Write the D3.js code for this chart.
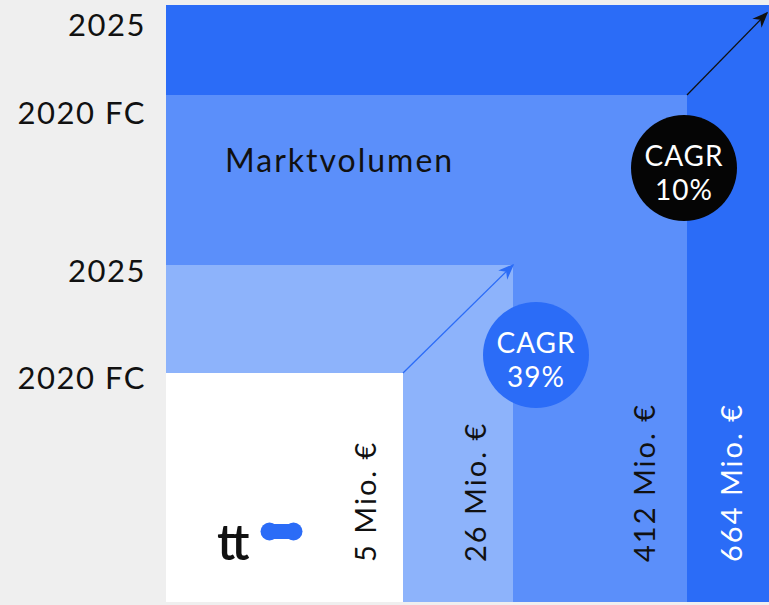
<!DOCTYPE html>
<meta charset="utf-8">
<head>
<script src="https://d3js.org/d3.v7.min.js"></script>
<style>
body { margin: 0; background: #efefef; }
svg { display: block; font-family: Lato, "Open Sans", sans-serif; }
</style>
</head>
<body>
<svg id="chart"></svg>
<script>
// market volumes, innermost to outermost square
var volumes = [5, 26, 412, 664];
var volumeLabels = ["5 Mio. €", "26 Mio. €", "412 Mio. €", "664 Mio. €"];
var yearLabels = ["2020 FC", "2025", "2020 FC", "2025"];
var cagrLabels = ["39%", "10%"];
var title = "Marktvolumen";

var width = 769, height = 605;
var left = 166, bottom = 602;

var fills = ["#ffffff", "#8db3fb", "#5b8ffa", "#2b6cf7"];
var textFill = ["#111", "#111", "#111", "#fff"];

// squares are not drawn to area, the source just stacks them
var x = d3.scaleLinear().domain([0].concat(volumes)).range([left, 403, 513, 687, 769]);
var y = d3.scaleLinear().domain([0].concat(volumes)).range([bottom, 373, 265, 95, 5]);

var svg = d3.select("#chart").attr("width", width).attr("height", height);

var defs = svg.append("defs");
[["arrBlue", "#2b6cf7"], ["arrBlack", "#111"]].forEach(function(m) {
    defs.append("marker")
        .attr("id", m[0])
        .attr("viewBox", "0 0 10 10")
        .attr("refX", 9).attr("refY", 5)
        .attr("markerWidth", 16).attr("markerHeight", 16)
        .attr("markerUnits", "userSpaceOnUse")
        .attr("orient", "auto")
        .append("path")
        .attr("d", "M0,1 L10,5 L0,9 L3,5 Z")
        .attr("fill", m[1]);
});

// outermost first
var order = d3.range(volumes.length).reverse();
svg.selectAll("rect.sq")
    .data(order)
    .enter().append("rect")
    .attr("class", "sq")
    .attr("x", left)
    .attr("y", function(i) { return y(volumes[i]); })
    .attr("width", function(i) { return x(volumes[i]) - left; })
    .attr("height", function(i) { return bottom - y(volumes[i]); })
    .attr("fill", function(i) { return fills[i]; });

// year labels on the left
var yearNudge = [5, 6, 18, 20];
svg.selectAll("text.year")
    .data(yearLabels)
    .enter().append("text")
    .attr("class", "year")
    .attr("x", 146)
    .attr("y", function(d, i) { return y(volumes[i]) + yearNudge[i]; })
    .attr("dy", "0.35em")
    .attr("text-anchor", "end")
    .attr("font-size", 31)
    .attr("letter-spacing", 1.5)
    .attr("fill", "#111")
    .text(function(d) { return d; });

// rotated value labels
var volShift = [37, 37, 42, 37];
svg.selectAll("text.vol")
    .data(volumeLabels)
    .enter().append("text")
    .attr("class", "vol")
    .attr("transform", function(d, i) {
        return "translate(" + (x(volumes[i]) - volShift[i]) + ",562) rotate(-90)";
    })
    .attr("dy", "0.35em")
    .attr("font-size", 29)
    .attr("letter-spacing", 2)
    .attr("fill", function(d, i) { return textFill[i]; })
    .text(function(d) { return d; });

svg.append("text")
    .attr("x", 225).attr("y", 172)
    .attr("font-size", 32)
    .attr("letter-spacing", 2)
    .attr("fill", "#111")
    .text(title);

// growth arrows
svg.append("line")
    .attr("x1", x(volumes[0])).attr("y1", y(volumes[0]))
    .attr("x2", x(volumes[1])).attr("y2", y(volumes[1]))
    .attr("stroke", "#2b6cf7").attr("stroke-width", 1.3)
    .attr("marker-end", "url(#arrBlue)");
svg.append("line")
    .attr("x1", x(volumes[2])).attr("y1", y(volumes[2]))
    .attr("x2", x(volumes[3]) - 2).attr("y2", y(volumes[3]) + 8)
    .attr("stroke", "#111").attr("stroke-width", 1.3)
    .attr("marker-end", "url(#arrBlack)");

// CAGR bubbles
var bubbles = [
    {cx: x(volumes[1]) + 23, cy: y(volumes[1]) + 90, fill: "#2b6cf7", text: cagrLabels[0]},
    {cx: x(volumes[2]) - 3, cy: y(volumes[2]) + 73, fill: "#050505", text: cagrLabels[1]}
];
var b = svg.selectAll("g.bubble").data(bubbles).enter().append("g")
    .attr("transform", function(d) { return "translate(" + d.cx + "," + d.cy + ")"; });
b.append("circle").attr("r", 53).attr("fill", function(d) { return d.fill; });
b.append("text").attr("y", -12).attr("dy", "0.35em").attr("text-anchor", "middle")
    .attr("font-size", 28).attr("letter-spacing", 1).attr("fill", "#fff").text("CAGR");
b.append("text").attr("y", 22).attr("dy", "0.35em").attr("text-anchor", "middle")
    .attr("font-size", 28).attr("letter-spacing", 1).attr("fill", "#fff")
    .text(function(d) { return d.text; });

// logo
svg.append("text")
    .attr("x", 217).attr("y", 560)
    .attr("font-size", 50).attr("font-weight", 600)
    .attr("letter-spacing", -4)
    .attr("fill", "#111")
    .text("tt");
var logo = svg.append("g").attr("fill", "#2b6cf7");
logo.append("circle").attr("cx", 269.5).attr("cy", 531.5).attr("r", 9);
logo.append("circle").attr("cx", 293.5).attr("cy", 531.5).attr("r", 9);
logo.append("rect").attr("x", 269.5).attr("y", 524).attr("width", 24).attr("height", 15);
</script>
</body>
